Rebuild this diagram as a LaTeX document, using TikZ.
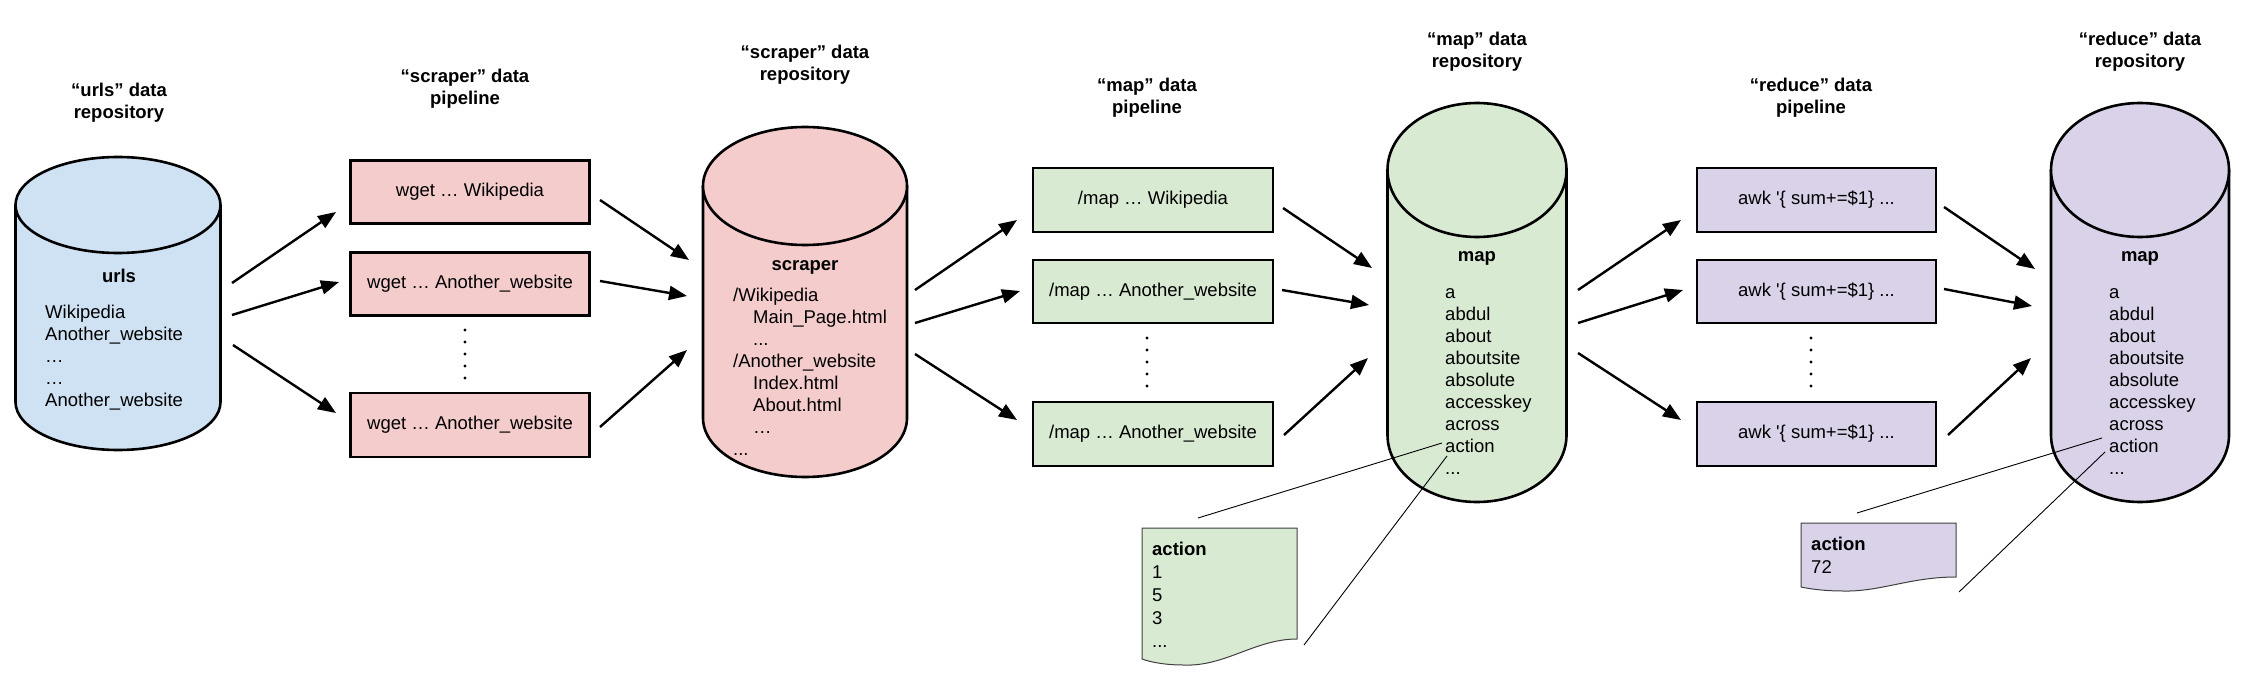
\documentclass[tikz,border=0pt]{standalone}
\usepackage{fontspec}
\setmainfont{Liberation Sans}
\usetikzlibrary{arrows.meta}
\definecolor{urlsblue}{HTML}{CFE2F3}
\definecolor{scraperred}{HTML}{F4CCCC}
\definecolor{mapgreen}{HTML}{D9EAD3}
\definecolor{reducepurple}{HTML}{D9D2E9}
\def\datarepo[#1](#2)(#3:#4:#5:#6){\draw[#1] (#2-#5,#3) -- (#2-#5,#4) arc (180:0:#5 and #6) -- (#2+#5,#3); \draw[#1] (#2,#3) ellipse (#5 and #6);}
\tikzset{
	title/.style={font=\fontsize{18.5}{22}\selectfont\bfseries, align=center, inner sep=0pt},
	pipebox/.style={draw, line width=2.6pt, minimum width=239pt, minimum height=63pt, inner sep=0pt},
	listing/.style={anchor=west, align=left, inner sep=0pt},
	flow/.style={line width=2.4pt, -{Triangle[length=18pt,width=14pt]}},
	leader/.style={line width=0.9pt},
	note/.style={fill=#1, draw=black!75, line width=1pt}
}

\begin{document}
\begin{tikzpicture}[x=1pt, y=-1pt, font=\fontsize{18.5}{22}\selectfont]
			%%%%% START %%%%%
			\useasboundingbox (0,0) rectangle (2257,687);
			
			\node[title] (urlstitle) at (119,103) {“urls” data\\repository};
			\node[title] (scrapertitle) at (465,89) {“scraper” data\\pipeline};
			\node[title] (scraperrepotitle) at (805,65) {“scraper” data\\repository};
			\node[title] (maptitle) at (1147,98) {“map” data\\pipeline};
			\node[title] (maprepotitle) at (1477,52) {“map” data\\repository};
			\node[title] (reducetitle) at (1811,98) {“reduce” data\\pipeline};
			\node[title] (reducerepotitle) at (2140,52) {“reduce” data\\repository};
			
			% urls repository
			\datarepo[fill=urlsblue, line width=2.6pt](118)(205:402:102.5:48)
			\node[title] (urls) at (119,276) {urls};
			\node[listing] (urlslist) at (45,358) {Wikipedia\\Another\_website\\…\\…\\Another\_website};
			
			% scraper pipeline
			\node[pipebox, fill=scraperred] (wget1) at (470,192) {wget … Wikipedia};
			\node[pipebox, fill=scraperred] (wget2) at (470,284) {wget … Another\_website};
			\node[pipebox, fill=scraperred, minimum height=64pt] (wget3) at (470,425) {wget … Another\_website};
			\fill (465,330) circle (1.7) (465,342) circle (1.7) (465,354) circle (1.7) (465,366) circle (1.7) (465,378) circle (1.7);
			
			\coordinate (uo1) at (232,283); \coordinate (wi1) at (336,212); \draw[flow] (uo1) -- (wi1);
			\coordinate (uo2) at (232,315); \coordinate (wi2) at (339,282); \draw[flow] (uo2) -- (wi2);
			\coordinate (uo3) at (233,345); \coordinate (wi3) at (336,413); \draw[flow] (uo3) -- (wi3);
			
			% scraper repository
			\datarepo[fill=scraperred, line width=2.6pt](805)(186:418:102:59)
			\node[title] (scraper) at (805,267) {scraper};
			\node[listing] (scraperlist) at (733,372) {/Wikipedia\\\hspace*{20pt}Main\_Page.html\\\hspace*{20pt}...\\/Another\_website\\\hspace*{20pt}Index.html\\\hspace*{20pt}About.html\\\hspace*{20pt}…\\...};
			
			\coordinate (wo1) at (600,200); \coordinate (si1) at (689,260); \draw[flow] (wo1) -- (si1);
			\coordinate (wo2) at (600,281); \coordinate (si2) at (687,296); \draw[flow] (wo2) -- (si2);
			\coordinate (wo3) at (600,427); \coordinate (si3) at (687,350); \draw[flow] (wo3) -- (si3);
			
			% map pipeline
			\node[pipebox, fill=mapgreen, minimum width=240pt, minimum height=64pt] (map1) at (1153,200) {/map … Wikipedia};
			\node[pipebox, fill=mapgreen, minimum width=240pt] (map2) at (1153,291.5) {/map … Another\_website};
			\node[pipebox, fill=mapgreen, minimum width=240pt, minimum height=64pt] (map3) at (1153,434) {/map … Another\_website};
			\fill (1147,338) circle (1.7) (1147,350) circle (1.7) (1147,362) circle (1.7) (1147,374) circle (1.7) (1147,386) circle (1.7);
			
			\coordinate (so1) at (915,290); \coordinate (mi1) at (1017,220); \draw[flow] (so1) -- (mi1);
			\coordinate (so2) at (915,323); \coordinate (mi2) at (1020,291); \draw[flow] (so2) -- (mi2);
			\coordinate (so3) at (915,354); \coordinate (mi3) at (1017,420); \draw[flow] (so3) -- (mi3);
			
			% map repository
			\datarepo[fill=mapgreen, line width=2.6pt](1477)(170:435:89.5:67)
			\node[title] (maprepo) at (1477,258) {map};
			\node[listing] (maplist) at (1445,381.5) {a\\abdul\\about\\aboutsite\\absolute\\accesskey\\across\\action\\...};
			
			\coordinate (mo1) at (1283,208); \coordinate (ri1) at (1372,268); \draw[flow] (mo1) -- (ri1);
			\coordinate (mo2) at (1282,290); \coordinate (ri2) at (1369,305); \draw[flow] (mo2) -- (ri2);
			\coordinate (mo3) at (1284,435); \coordinate (ri3) at (1368,358); \draw[flow] (mo3) -- (ri3);
			
			% reduce pipeline
			\node[pipebox, fill=reducepurple, minimum height=64pt] (awk1) at (1816.5,200) {awk \textquotesingle\{ sum+=\$1\} ...};
			\node[pipebox, fill=reducepurple] (awk2) at (1816.5,291.5) {awk \textquotesingle\{ sum+=\$1\} ...};
			\node[pipebox, fill=reducepurple, minimum height=64pt] (awk3) at (1816.5,434) {awk \textquotesingle\{ sum+=\$1\} ...};
			\fill (1811,338) circle (1.7) (1811,350) circle (1.7) (1811,362) circle (1.7) (1811,374) circle (1.7) (1811,386) circle (1.7);
			
			\coordinate (po1) at (1578,290); \coordinate (ai1) at (1681,220); \draw[flow] (po1) -- (ai1);
			\coordinate (po2) at (1578,323); \coordinate (ai2) at (1683,290); \draw[flow] (po2) -- (ai2);
			\coordinate (po3) at (1578,353); \coordinate (ai3) at (1681,420); \draw[flow] (po3) -- (ai3);
			
			% reduce repository
			\datarepo[fill=reducepurple, line width=2.6pt](2140)(170:435:89:67)
			\node[title] (reducerepo) at (2140,258) {map};
			\node[listing] (reducelist) at (2109,381.5) {a\\abdul\\about\\aboutsite\\absolute\\accesskey\\across\\action\\...};
			
			\coordinate (ao1) at (1944,207); \coordinate (di1) at (2035,269); \draw[flow] (ao1) -- (di1);
			\coordinate (ao2) at (1944,289); \coordinate (di2) at (2032,306); \draw[flow] (ao2) -- (di2);
			\coordinate (ao3) at (1948,435); \coordinate (di3) at (2031,358); \draw[flow] (ao3) -- (di3);
			
			% callout documents
			\draw[note=mapgreen] (1142,528) -- (1297,528) -- (1297,639) .. controls (1255,639) and (1225,667) .. (1183,665) .. controls (1165,665) and (1150,662) .. (1142,659) -- cycle;
			\node[listing, font=\fontsize{18.5}{23}\selectfont] (mapnote) at (1152,595) {\textbf{action}\\1\\5\\3\\...};
			\coordinate (mapaction1) at (1442,443); \coordinate (mapnote1) at (1198,518); \draw[leader] (mapnote1) -- (mapaction1);
			\coordinate (mapaction2) at (1447,456); \coordinate (mapnote2) at (1304,645); \draw[leader] (mapnote2) -- (mapaction2);
			
			\draw[note=reducepurple] (1801,523) -- (1956,523) -- (1956,577) .. controls (1910,577) and (1880,592) .. (1843,591) .. controls (1825,591) and (1810,589) .. (1801,587) -- cycle;
			\node[listing, font=\fontsize{18.5}{23}\selectfont] (reducenote) at (1811,555.5) {\textbf{action}\\72};
			\coordinate (reduceaction1) at (2102,438); \coordinate (reducenote1) at (1857,513); \draw[leader] (reducenote1) -- (reduceaction1);
			\coordinate (reduceaction2) at (2105,452); \coordinate (reducenote2) at (1959,592); \draw[leader] (reducenote2) -- (reduceaction2);
			%%%%% END %%%%%
\end{tikzpicture}
\end{document}
